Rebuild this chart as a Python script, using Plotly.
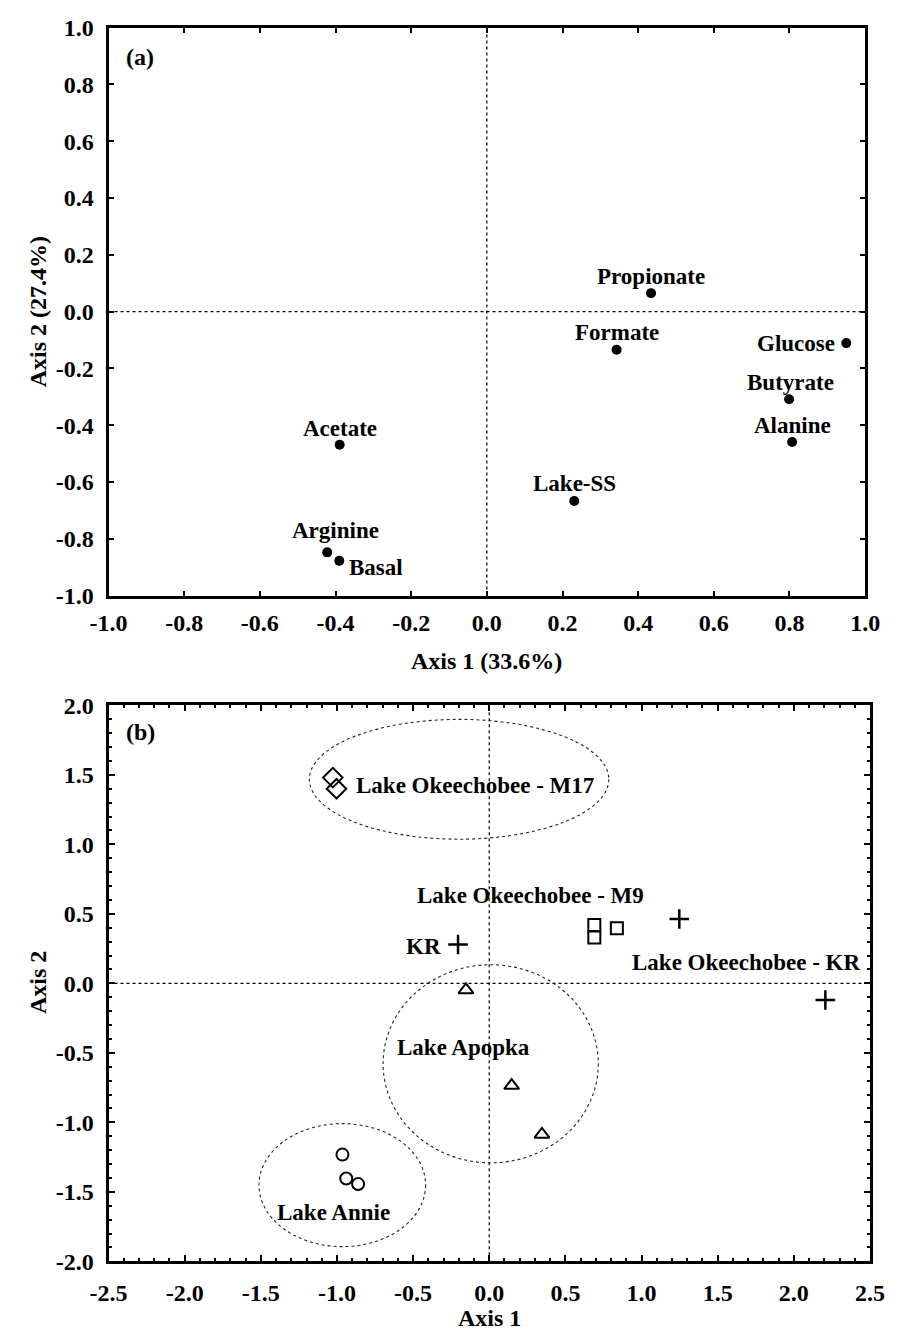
import plotly.graph_objects as go

# ---------------- data: panel (a) ----------------
a_labels = ["Propionate", "Formate", "Glucose", "Butyrate", "Alanine",
            "Acetate", "Lake-SS", "Arginine", "Basal"]
a_x = [0.434, 0.343, 0.950, 0.799, 0.807, -0.389, 0.231, -0.422, -0.390]
a_y = [0.065, -0.134, -0.111, -0.309, -0.459, -0.469, -0.667, -0.848, -0.878]
a_ticks = [-1.0, -0.8, -0.6, -0.4, -0.2, 0.0, 0.2, 0.4, 0.6, 0.8, 1.0]

# ---------------- data: panel (b) ----------------
m17_x = [-1.027, -1.003]
m17_y = [1.480, 1.400]
m9_x = [0.690, 0.690, 0.838]
m9_y = [0.420, 0.329, 0.396]
kr_x = [-0.205, 1.248, 2.207]
kr_y = [0.280, 0.463, -0.120]
apopka_x = [-0.153, 0.147, 0.346]
apopka_y = [-0.047, -0.735, -1.087]
annie_x = [-0.964, -0.939, -0.861]
annie_y = [-1.232, -1.404, -1.444]

b_xticks = [-2.5, -2.0, -1.5, -1.0, -0.5, 0.0, 0.5, 1.0, 1.5, 2.0, 2.5]
b_yticks = [-2.0, -1.5, -1.0, -0.5, 0.0, 0.5, 1.0, 1.5, 2.0]
b_xminor = [round(-2.5 + 0.1 * i, 1) for i in range(51)]
b_yminor = [round(-2.0 + 0.1 * i, 1) for i in range(41)]

# group ellipses (x0, x1, y0, y1) in data units
ellipse_m17 = [-1.181, 0.785, 1.037, 1.899]
ellipse_apopka = [-0.697, 0.716, -1.291, 0.134]
ellipse_annie = [-1.512, -0.418, -1.894, -1.009]

group_labels = ["Lake Okeechobee - M17", "Lake Okeechobee - M9", "KR",
                "Lake Okeechobee - KR", "Lake Apopka", "Lake Annie"]
group_label_x = [-0.092, 0.269, -0.302, 1.685, -0.169, -1.023]
group_label_y = [1.425, 0.634, 0.268, 0.153, -0.465, -1.650]


def fmt(v):
    return f"{v:.1f}"  # plain hyphen-minus like the original


# ---------------- styles ----------------
FAM = "Liberation Serif, Times New Roman, serif"
BLK = "black"

# label placement for panel (a): (xanchor, xshift, yshift)
a_label_style = {
    "Propionate": ("center", 0, 17),
    "Formate": ("center", 0, 17),
    "Glucose": ("right", -9, 0),
    "Butyrate": ("center", 1, 17),
    "Alanine": ("center", 0, 16),
    "Acetate": ("center", 0, 16),
    "Lake-SS": ("center", 0, 17),
    "Arginine": ("center", 8, 22),
    "Basal": ("left", 8, -7),
}
group_anchor = ["center", "center", "right", "center", "center", "center"]

fig = go.Figure()

# panel (a)
fig.add_trace(go.Scatter(
    x=a_x, y=a_y, mode="markers", xaxis="x", yaxis="y",
    marker=dict(symbol="circle", size=10, color=BLK),
    showlegend=False, hoverinfo="skip"))

# panel (b)
mk_line = dict(color=BLK, width=2)
fig.add_trace(go.Scatter(x=m17_x, y=m17_y, mode="markers", xaxis="x2", yaxis="y2",
                         marker=dict(symbol="diamond-open", size=15, color=BLK, line=mk_line),
                         showlegend=False, hoverinfo="skip"))
fig.add_trace(go.Scatter(x=m9_x, y=m9_y, mode="markers", xaxis="x2", yaxis="y2",
                         marker=dict(symbol="square-open", size=12, color=BLK, line=mk_line),
                         showlegend=False, hoverinfo="skip"))
fig.add_trace(go.Scatter(x=kr_x, y=kr_y, mode="markers", xaxis="x2", yaxis="y2",
                         marker=dict(symbol="cross-thin", size=14, color=BLK,
                                     line=dict(color=BLK, width=2.5)),
                         showlegend=False, hoverinfo="skip"))
fig.add_trace(go.Scatter(x=apopka_x, y=apopka_y, mode="markers", xaxis="x2", yaxis="y2",
                         marker=dict(symbol="triangle-up-open", size=13, color=BLK, line=mk_line),
                         showlegend=False, hoverinfo="skip"))
fig.add_trace(go.Scatter(x=annie_x, y=annie_y, mode="markers", xaxis="x2", yaxis="y2",
                         marker=dict(symbol="circle-open", size=12, color=BLK, line=mk_line),
                         showlegend=False, hoverinfo="skip"))

annotations = []
lab_font = dict(family=FAM, size=23, color=BLK, weight="bold")
for name, x, y in zip(a_labels, a_x, a_y):
    xa, xs, ys = a_label_style[name]
    annotations.append(dict(x=x, y=y, xref="x", yref="y", text=name, showarrow=False,
                            xanchor=xa, yanchor="middle", xshift=xs, yshift=ys,
                            font=lab_font))
grp_font = dict(family=FAM, size=23, color=BLK, weight="bold")
for name, x, y, xa in zip(group_labels, group_label_x, group_label_y, group_anchor):
    annotations.append(dict(x=x, y=y, xref="x2", yref="y2", text=name, showarrow=False,
                            xanchor=xa, yanchor="middle", font=grp_font))

title_font = dict(family=FAM, size=24, color=BLK, weight="bold")
annotations += [
    dict(x=486 / 910, y=1 - 661 / 1344, xref="paper", yref="paper", text="Axis 1 (33.6%)",
         showarrow=False, xanchor="center", yanchor="middle", font=title_font),
    dict(x=20 / 910, y=1 - 305 / 1344, xref="paper", yref="paper", text="Axis 2 (27.4%)",
         showarrow=False, xanchor="center", yanchor="middle", textangle=-90, font=title_font),
    dict(x=489 / 910, y=1 - 1331 / 1344, xref="paper", yref="paper", text="Axis 1",
         showarrow=False, xanchor="center", yanchor="middle", font=title_font),
    dict(x=20 / 910, y=1 - 989 / 1344, xref="paper", yref="paper", text="Axis 2",
         showarrow=False, xanchor="center", yanchor="middle", textangle=-90, font=title_font),
    dict(x=109 / 910, y=1 - 45 / 1344, xref="paper", yref="paper", text="(a)",
         showarrow=False, xanchor="left", yanchor="middle", font=title_font),
    dict(x=109 / 910, y=1 - 733 / 1344, xref="paper", yref="paper", text="(b)",
         showarrow=False, xanchor="left", yanchor="middle", font=title_font),
]

dot_line = dict(color=BLK, width=1.2, dash="dot")
shapes = [
    dict(type="line", xref="x", yref="y domain", x0=0, x1=0, y0=0, y1=1, line=dot_line, layer="below"),
    dict(type="line", xref="x domain", yref="y", x0=0, x1=1, y0=0, y1=0, line=dot_line, layer="below"),
    dict(type="line", xref="x2", yref="y2 domain", x0=0, x1=0, y0=0, y1=1, line=dot_line, layer="below"),
    dict(type="line", xref="x2 domain", yref="y2", x0=0, x1=1, y0=0, y1=0, line=dot_line, layer="below"),
]
ell_line = dict(color="#222", width=1.1, dash="dot")
for e in (ellipse_m17, ellipse_apopka, ellipse_annie):
    shapes.append(dict(type="circle", xref="x2", yref="y2", x0=e[0], x1=e[1], y0=e[2], y1=e[3],
                       line=ell_line, layer="below"))

tick_font = dict(family=FAM, size=24, color=BLK, weight="bold")
common_axis = dict(showgrid=False, zeroline=False, showline=True, linecolor=BLK, linewidth=3,
                   mirror="ticks", ticks="inside", tickcolor=BLK, tickwidth=2, tickfont=tick_font,
                   tickmode="array", fixedrange=True)


def minor_ticks(vals):
    return dict(tickmode="array", tickvals=vals, ticks="inside", ticklen=3, tickwidth=2,
                tickcolor=BLK, showgrid=False)


fig.update_layout(
    width=910, height=1344,
    margin=dict(l=0, r=0, t=0, b=0),
    paper_bgcolor="white", plot_bgcolor="white",
    showlegend=False,
    xaxis=dict(domain=[93 / 910, 879 / 910], range=[-1, 1], anchor="y",
               tickvals=a_ticks, ticktext=[fmt(v) for v in a_ticks],
               ticklen=5, ticklabelstandoff=4, **common_axis),
    yaxis=dict(domain=[1 - 594 / 1344, 1 - 15 / 1344], range=[-1, 1], anchor="x",
               tickvals=a_ticks, ticktext=[fmt(v) for v in a_ticks],
               ticklen=5, ticklabelstandoff=7, **common_axis),
    xaxis2=dict(domain=[93 / 910, 884 / 910], range=[-2.5, 2.5], anchor="y2",
                tickvals=b_xticks, ticktext=[fmt(v) for v in b_xticks],
                ticklen=6, ticklabelstandoff=8, minor=minor_ticks(b_xminor), **common_axis),
    yaxis2=dict(domain=[1 - 1273 / 1344, 1 - 706 / 1344], range=[-2, 2], anchor="x2",
                tickvals=b_yticks, ticktext=[fmt(v) for v in b_yticks],
                ticklen=6, ticklabelstandoff=7, minor=minor_ticks(b_yminor), **common_axis),
    annotations=annotations,
    shapes=shapes,
)

fig.write_html("out.html")
